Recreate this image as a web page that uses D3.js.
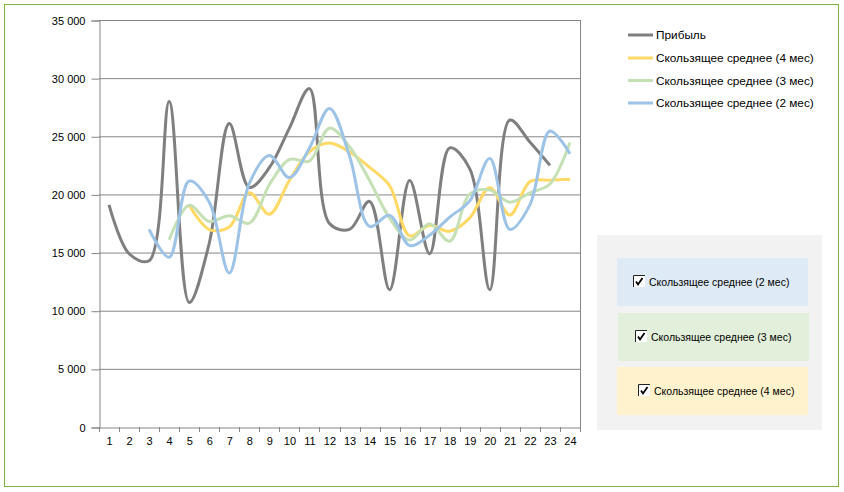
<!DOCTYPE html>
<html><head><meta charset="utf-8">
<script src="https://cdn.jsdelivr.net/npm/d3@7"></script>
<style>body{margin:0;background:#fff}svg{display:block}text{font-family:"Liberation Sans",Arial,sans-serif}</style>
</head><body><svg id="c" width="844" height="492"></svg>
<script>
const categories = d3.range(1, 25).map(String);
const profit = [19100, 14900, 14300, 28000, 10700, 15800, 26100, 20600, 22300, 25700, 29100, 17500, 17000, 19400, 11800, 21200, 14900, 24000, 22200, 11800, 26400, 24500, 22500];
// moving averages (start at categories 3, 4 and 5)
const ma2 = [17000, 14600, 21150, 19350, 13250, 20950, 23350, 21450, 24000, 27400, 23300, 17250, 18200, 15600, 16500, 18050, 19450, 23100, 17000, 19100, 25450, 23500];
const ma3 = [16100, 19070, 17670, 18170, 17530, 20830, 23000, 22870, 25700, 24100, 21200, 17970, 16070, 17470, 15970, 20030, 20370, 19330, 20130, 20900, 24470];
const ma4 = [19080, 16980, 17200, 20150, 18300, 21200, 23680, 24430, 23650, 22330, 20750, 16430, 17350, 16830, 17980, 20580, 18230, 21100, 21230, 21300];
const yTicks = [0, 5000, 10000, 15000, 20000, 25000, 30000, 35000];
const seriesNames = ["Прибыль", "Скользящее среднее (4 мес)", "Скользящее среднее (3 мес)", "Скользящее среднее (2 мес)"];
const seriesColors = ["#7f7f7f", "#ffd966", "#c5e0b4", "#9dc3e6"];
const panelNames = ["Скользящее среднее (2 мес)", "Скользящее среднее (3 мес)", "Скользящее среднее (4 мес)"];
const panelColors = ["#deeaf6", "#e2efda", "#fff2cc"];

const svg = d3.select("#c");
svg.append("rect").attr("x",4.5).attr("y",4.5).attr("width",834).attr("height",482)
  .attr("fill","#fff").attr("stroke","#7cb342").attr("stroke-width",1);

const L=99, R=580, T=20, B=427;
const x = d3.scaleBand().domain(categories).range([L,R]);
const y = d3.scaleLinear().domain([0,35000]).range([B,T]);
const fmt = v => d3.format(",")(v).replace(/,/g, "\u00a0");

svg.append("g").selectAll("line").data(yTicks.filter(d=>d>0)).join("line")
  .attr("x1",L).attr("x2",R).attr("y1",d=>y(d)+0.5).attr("y2",d=>y(d)+0.5)
  .attr("stroke","#868686").attr("stroke-width",1);
svg.append("line").attr("x1",R+0.5).attr("x2",R+0.5).attr("y1",T).attr("y2",B).attr("stroke","#868686");

const ya = svg.append("g").attr("transform",`translate(${L+0.5},0.5)`)
  .call(d3.axisLeft(y).tickValues(yTicks).tickFormat(fmt).tickSize(8).tickPadding(6));
ya.select(".domain").attr("stroke","#868686");
ya.selectAll(".tick line").attr("stroke","#868686");
ya.selectAll("text").attr("font-size",11).attr("fill","#000");

const xa = svg.append("g").attr("transform",`translate(0.5,${B+0.5})`)
  .call(d3.axisBottom(x).tickSize(0).tickPadding(10));
xa.select(".domain").attr("stroke","#868686");
xa.selectAll("text").attr("font-size",11).attr("fill","#000");
svg.append("g").selectAll("line").data(categories.concat(["end"])).join("line")
  .attr("x1",(d,i)=>Math.round(L+i*x.step())+0.5).attr("x2",(d,i)=>Math.round(L+i*x.step())+0.5)
  .attr("y1",B).attr("y2",B+5).attr("stroke","#868686");

const line = d3.line().x(d=>x(d[0])+x.bandwidth()/2).y(d=>y(d[1])).curve(d3.curveCatmullRom.alpha(0.5));
const mk = (arr, start) => arr.map((v,i)=>[categories[start+i], v]);
const data = [mk(profit,0), mk(ma4,4), mk(ma3,3), mk(ma2,2)];
data.forEach((d,i)=>{
  svg.append("path").datum(d).attr("d",line).attr("fill","none")
    .attr("stroke",seriesColors[i]).attr("stroke-width",3).attr("stroke-linejoin","round");
});

const ly = [35, 58, 80.5, 103];
seriesNames.forEach((n,i)=>{
  svg.append("line").attr("x1",628).attr("x2",653).attr("y1",ly[i]).attr("y2",ly[i])
    .attr("stroke",seriesColors[i]).attr("stroke-width",3);
  svg.append("text").attr("x",656).attr("y",ly[i]+4).attr("font-size",11.8).text(n);
});

svg.append("rect").attr("x",597).attr("y",235).attr("width",225).attr("height",195).attr("fill","#f2f2f2");
const py = [258, 313, 367], px = [617, 618, 617], cbx=[633,635,638];
panelNames.forEach((n,i)=>{
  svg.append("rect").attr("x",px[i]).attr("y",py[i]).attr("width",191).attr("height",48).attr("fill",panelColors[i]);
  const cy = py[i]+24;
  svg.append("rect").attr("x",cbx[i]).attr("y",cy-7).attr("width",12).attr("height",12).attr("fill","#fff");
  svg.append("path").attr("d",`M${cbx[i]+0.5},${cy+5} V${cy-6.5} H${cbx[i]+12}`)
    .attr("fill","none").attr("stroke","#222").attr("stroke-width",1);
  svg.append("path").attr("d",`M${cbx[i]+3},${cy-0.5} L${cbx[i]+5},${cy+2.5} L${cbx[i]+9.5},${cy-4}`)
    .attr("fill","none").attr("stroke","#000").attr("stroke-width",1.8);
  svg.append("text").attr("x",cbx[i]+16).attr("y",cy+3.5).attr("font-size",10.5).text(n);
});
</script></body></html>
